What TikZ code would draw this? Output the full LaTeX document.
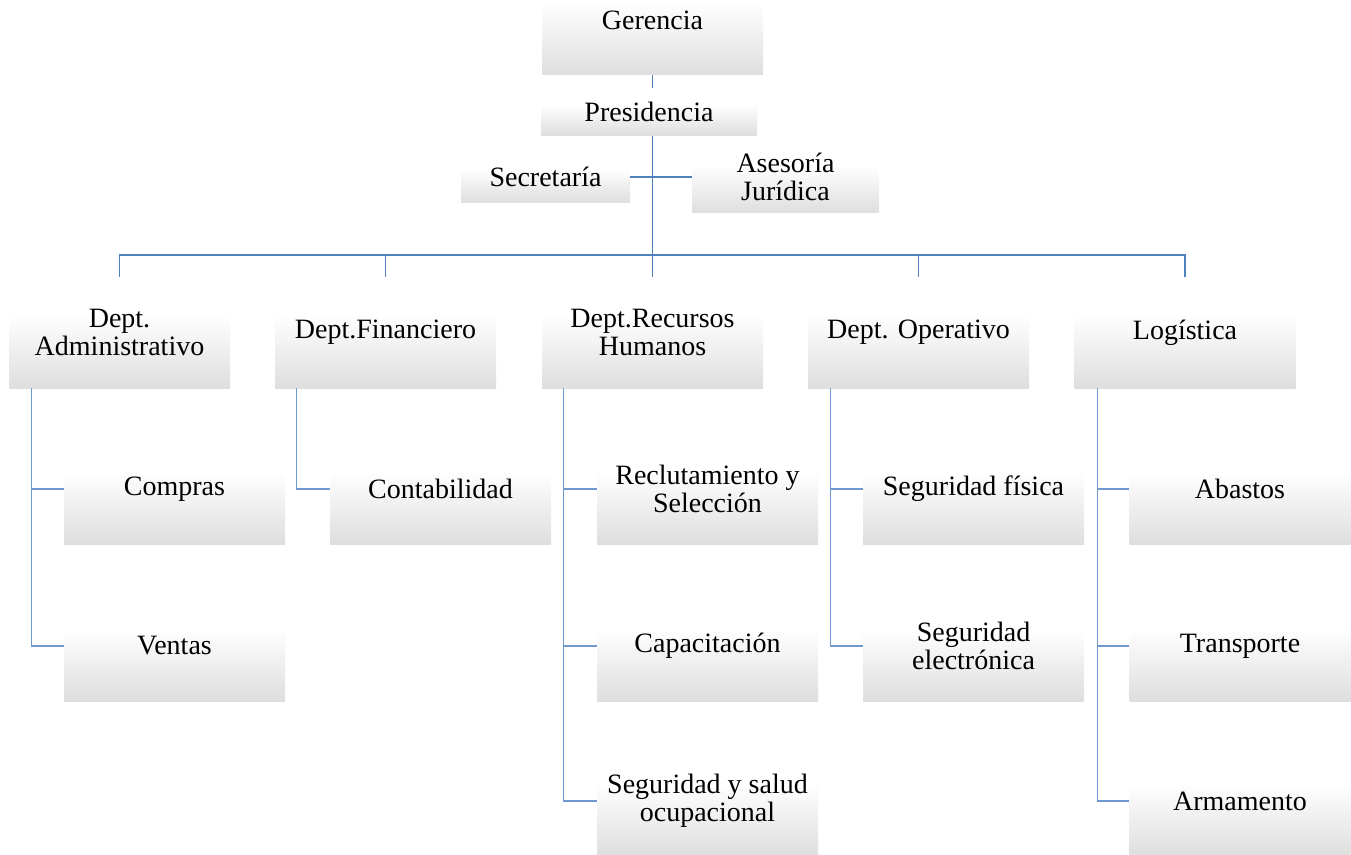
\documentclass[tikz,border=0pt]{standalone}
\usepackage{fontspec}
\setmainfont{Liberation Serif}
\definecolor{lineblue}{HTML}{4F81BD}
\definecolor{branchblue}{HTML}{6F9AD0}
\pgfdeclareverticalshading{boxshade}{100bp}{color(0bp)=(black!13); color(25bp)=(black!13); color(58bp)=(white); color(100bp)=(white)}
\begin{document}
\begin{tikzpicture}[x=0.75pt,y=-0.75pt,
  box/.style={rectangle, shading=boxshade, inner sep=0pt, align=center,
    font=\fontsize{21}{21}\selectfont, minimum width=165.75pt, minimum height=82.5pt},
  deptbox/.style={box, minimum height=83.25pt},
  trunk/.style={draw=lineblue, line width=1.4pt},
  branch/.style={draw=branchblue, line width=0.9pt}]
\path[use as bounding box, clip] (0,0) rectangle (1351,855);

% top
\node[box] (ger) at (652.5,20) {Gerencia};
\node[box, minimum width=162pt, minimum height=36pt] (pres) at (649,112) {Presidencia};
\node[box, minimum width=126.75pt, minimum height=39pt] (sec) at (545.5,177) {Secretaría};
\node[box, minimum width=140.25pt, minimum height=54pt] (ase) at (785.5,177) {Asesoría\\Jurídica};

% departments
\node[deptbox] (d1) at (119.5,332.5) {Dept.\\Administrativo};
\node[deptbox] (d2) at (385.5,332.5) {Dept.Financiero};
\node[deptbox] (d3) at (652.5,332.5) {Dept.Recursos\\Humanos};
\node[deptbox] (d4) at (918.5,332.5) {Dept. Operativo};
\node[deptbox] (d5) at (1185,332.5) {Logística};

% children
\node[box] (c11) at (174.5,489) {Compras};
\node[box] (c12) at (174.5,646) {Ventas};
\node[box] (c21) at (440.5,489) {Contabilidad};
\node[box] (c31) at (707.5,489) {Reclutamiento y\\Selección};
\node[box] (c32) at (707.5,646) {Capacitación};
\node[box] (c33) at (707.5,801) {Seguridad y salud\\ocupacional};
\node[box] (c41) at (973.5,489) {Seguridad física};
\node[box] (c42) at (973.5,646) {Seguridad\\electrónica};
\node[box] (c51) at (1240,489) {Abastos};
\node[box] (c52) at (1240,646) {Transporte};
\node[box] (c53) at (1240,801) {Armamento};

\coordinate (bus) at (0,255);

% top connectors
\draw[trunk] (ger.south) -- (ger.south |- pres.north);
\draw[trunk] (d3.north |- pres.south) -- (d3.north);
\draw[trunk] (sec.east) -- (ase.west);
\draw[trunk] (d1.north) -- (d1.north |- bus) -- (d5.north |- bus) -- (d5.north);
\draw[trunk] (d2.north |- bus) -- (d2.north);
\draw[trunk] (d4.north |- bus) -- (d4.north);

% branch connectors
\draw[branch] ([xshift=17.25pt]d1.south west) |- (c11.west);
\draw[branch] ([xshift=17.25pt]d1.south west) |- (c12.west);
\draw[branch] ([xshift=16.5pt]d2.south west) |- (c21.west);
\draw[branch] ([xshift=16.5pt]d3.south west) |- (c31.west);
\draw[branch] ([xshift=16.5pt]d3.south west) |- (c32.west);
\draw[branch] ([xshift=16.5pt]d3.south west) |- (c33.west);
\draw[branch] ([xshift=17.25pt]d4.south west) |- (c41.west);
\draw[branch] ([xshift=17.25pt]d4.south west) |- (c42.west);
\draw[branch] ([xshift=17.25pt]d5.south west) |- (c51.west);
\draw[branch] ([xshift=17.25pt]d5.south west) |- (c52.west);
\draw[branch] ([xshift=17.25pt]d5.south west) |- (c53.west);
\end{tikzpicture}
\end{document}
